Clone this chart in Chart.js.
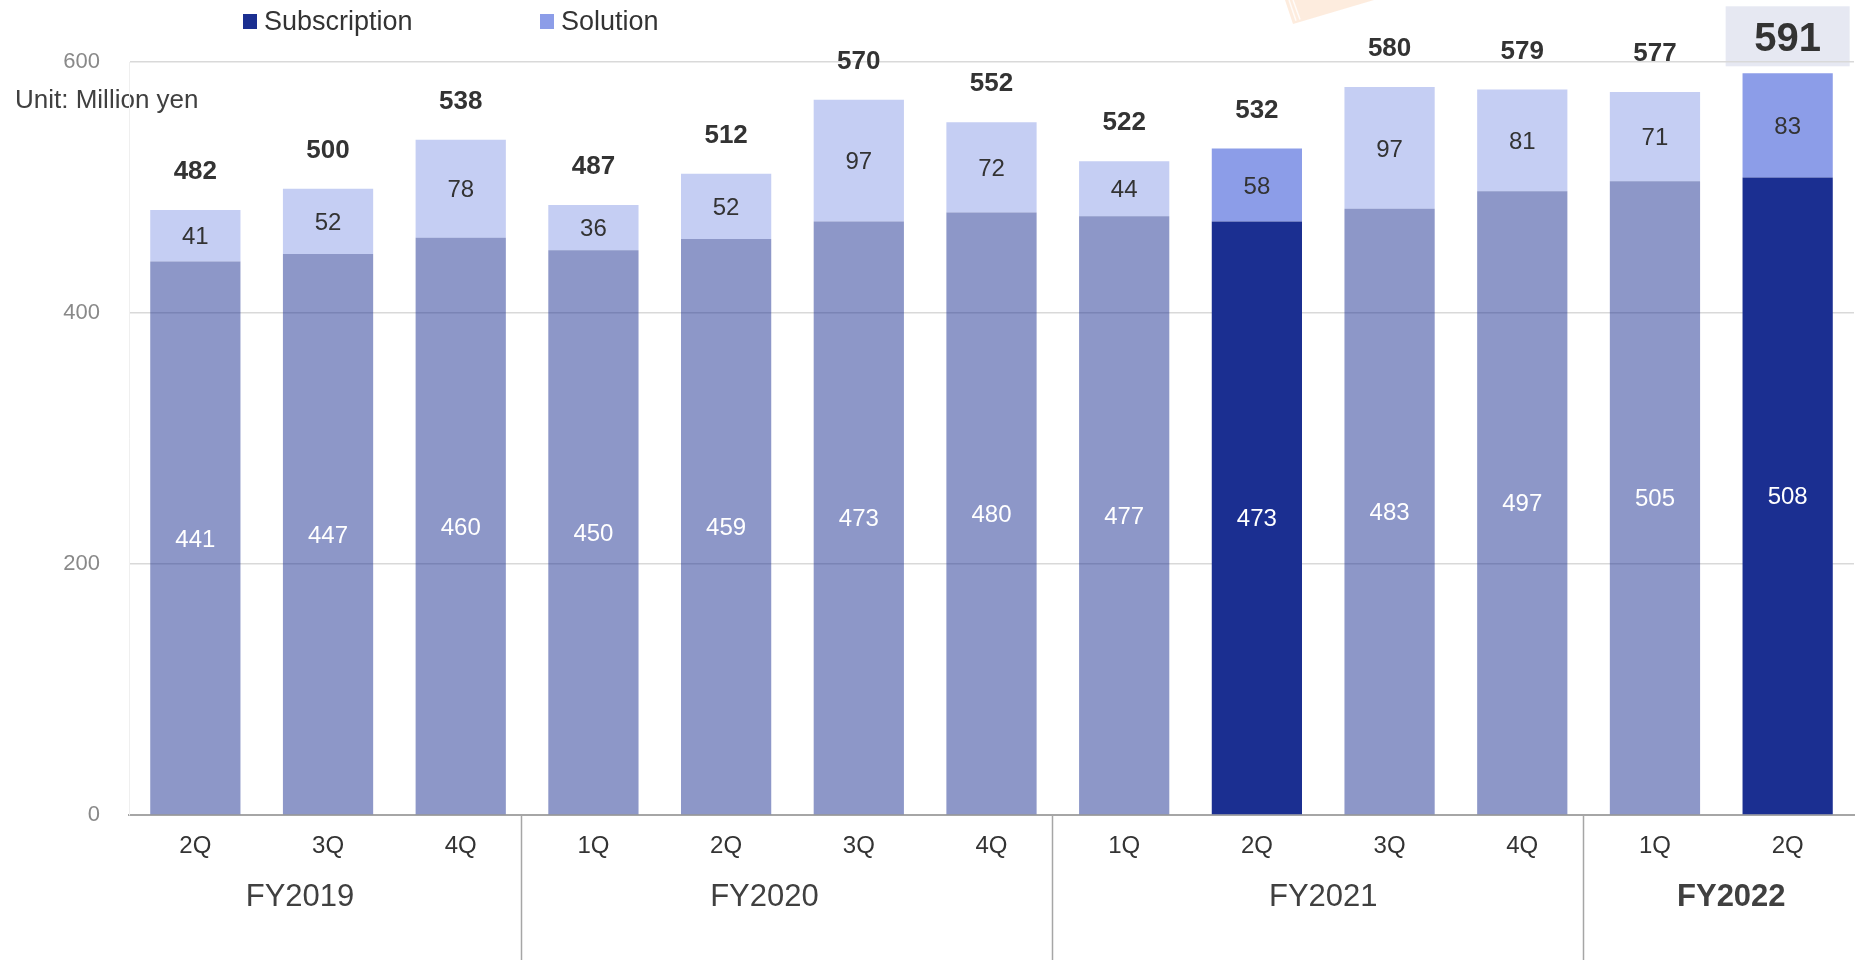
<!DOCTYPE html>
<html>
<head>
<meta charset="utf-8">
<title>Quarterly sales</title>
<script src="https://cdn.jsdelivr.net/npm/chart.js@4.4.1/dist/chart.umd.min.js"></script>
<style>
  html, body { margin: 0; padding: 0; background: #fff; }
  #wrap { width: 1858px; height: 960px; position: relative; }
</style>
</head>
<body>
<div id="wrap"><canvas id="sales"></canvas></div>
<script>
// quarterly sales, million yen
const quarters = ['2Q', '3Q', '4Q', '1Q', '2Q', '3Q', '4Q', '1Q', '2Q', '3Q', '4Q', '1Q', '2Q'];
const fiscalYears = ['FY2019', 'FY2020', 'FY2021', 'FY2022'];
const yearSpans = [[0, 2], [3, 6], [7, 10], [11, 12]];
const subscription = [441, 447, 460, 450, 459, 473, 480, 477, 473, 483, 497, 505, 508];
const solution = [41, 52, 78, 36, 52, 97, 72, 44, 58, 97, 81, 71, 83];
const totals = [482, 500, 538, 487, 512, 570, 552, 522, 532, 580, 579, 577, 591];
const yTicks = [0, 200, 400, 600];
const solidBars = [8, 12];   // same-quarter comparison stays full colour

const FONT = "'Liberation Sans', Arial, Helvetica, sans-serif";
const NAVY = '#1B2F91', NAVY_FADE = 'rgba(27,47,145,0.5)';
const PERI = '#8C9DE8', PERI_FADE = 'rgba(140,157,232,0.5)';
const TEXT = '#333333';
const yearNudge = [-28, -28, 0, 10];
const SEP_NUDGE = -6;
const last = totals.length - 1;

const pick = (solid, faded) => quarters.map((_, i) => solidBars.includes(i) ? solid : faded);

const decor = {
  id: 'decor',
  beforeDraw(chart) {
    const { ctx } = chart;
    ctx.save();
    // peach corner from the page header
    ctx.fillStyle = 'rgba(251,220,194,0.55)';
    ctx.beginPath();
    ctx.moveTo(1285, 0); ctx.lineTo(1293, 24); ctx.lineTo(1374, 0);
    ctx.closePath(); ctx.fill();
    ctx.strokeStyle = 'rgba(255,255,255,0.8)';
    ctx.lineWidth = 1.5;
    [4, 8].forEach(d => {
      ctx.beginPath(); ctx.moveTo(1285 + d, 0); ctx.lineTo(1292 + d, 22 - d * 0.3); ctx.stroke();
    });

    // box behind the latest total
    const top = chart.getDatasetMeta(1).data[last];
    ctx.fillStyle = '#E6E8F2';
    ctx.fillRect(top.x - 62, top.y - 67, 124, 60);

    // legend
    ctx.font = `27px ${FONT}`;
    ctx.textBaseline = 'middle';
    ctx.textAlign = 'left';
    [[NAVY, 'Subscription', 243], [PERI, 'Solution', 540]].forEach(([c, t, x]) => {
      ctx.fillStyle = c;
      ctx.fillRect(x, 14, 14, 15);
      ctx.fillStyle = TEXT;
      ctx.fillText(t, x + 21, 23);
    });

    ctx.font = `26px ${FONT}`;
    ctx.fillStyle = '#404040';
    ctx.fillText('Unit: Million yen', 15, 101);
    ctx.restore();
  },
  afterDatasetsDraw(chart) {
    const { ctx } = chart;
    const sub = chart.getDatasetMeta(0).data;
    const sol = chart.getDatasetMeta(1).data;
    ctx.save();
    ctx.textAlign = 'center';
    ctx.textBaseline = 'middle';
    ctx.font = `24px ${FONT}`;
    sub.forEach((b, i) => {
      ctx.fillStyle = '#fff';
      ctx.fillText(subscription[i], b.x, (b.y + b.base) / 2 + 2);
    });
    sol.forEach((b, i) => {
      ctx.fillStyle = TEXT;
      ctx.font = `24px ${FONT}`;
      ctx.fillText(solution[i], b.x, (b.y + b.base) / 2 + 2);
      if (i === last) {
        ctx.font = `bold 40px ${FONT}`;
        ctx.fillText(totals[i], b.x, b.y - 33);
      } else {
        ctx.font = `bold 26px ${FONT}`;
        ctx.fillText(totals[i], b.x, b.y - 38);
      }
    });
    ctx.restore();
  },
  afterDraw(chart) {
    const { ctx, scales: { x } } = chart;
    ctx.save();
    ctx.strokeStyle = '#A6A6A6';
    ctx.lineWidth = 1.5;
    yearSpans.slice(1).forEach(([s]) => {
      const px = Math.round((x.getPixelForValue(s - 1) + x.getPixelForValue(s)) / 2) + SEP_NUDGE + 0.5;
      ctx.beginPath(); ctx.moveTo(px, x.top); ctx.lineTo(px, 960); ctx.stroke();
    });
    ctx.textAlign = 'center';
    ctx.textBaseline = 'middle';
    yearSpans.forEach(([a, b], i) => {
      const cx = (x.getPixelForValue(a) + x.getPixelForValue(b)) / 2 + yearNudge[i];
      ctx.font = (i === fiscalYears.length - 1 ? 'bold ' : '') + `31px ${FONT}`;
      ctx.fillStyle = '#404040';
      ctx.fillText(fiscalYears[i], cx, 897);
    });
    ctx.restore();
  }
};

new Chart(document.getElementById('sales'), {
  type: 'bar',
  data: {
    labels: quarters,
    datasets: [
      { label: 'Subscription', data: subscription, backgroundColor: pick(NAVY, NAVY_FADE), borderWidth: 0 },
      { label: 'Solution', data: solution, backgroundColor: pick(PERI, PERI_FADE), borderWidth: 0 },
    ],
  },
  options: {
    responsive: true, maintainAspectRatio: false, animation: false,
    layout: { padding: { left: 0, right: 4, top: 62, bottom: 0 } },
    datasets: { bar: { categoryPercentage: 1, barPercentage: 0.68 } },
    plugins: { legend: { display: false }, tooltip: { enabled: false } },
    scales: {
      x: {
        stacked: true,
        grid: { display: false, drawTicks: false },
        border: { display: true, color: '#A6A6A6', width: 2 },
        ticks: { color: TEXT, padding: 17, font: { family: FONT, size: 24 } },
        afterFit: s => { s.height = 145; },
      },
      y: {
        stacked: true, min: 0, max: 600,
        afterBuildTicks: s => { s.ticks = yTicks.map(v => ({ value: v })); },
        grid: {
          drawTicks: false,
          color: c => c.tick && c.tick.value === 0 ? '#A6A6A6' : '#D9D9D9',
          lineWidth: 1.5,
        },
        border: { display: true, color: '#EFEFEF', width: 1 },
        ticks: { color: '#898989', padding: 29, font: { family: FONT, size: 22 } },
        afterFit: s => { s.width = 129; },
      },
    },
  },
  plugins: [decor],
});
</script>
</body>
</html>
